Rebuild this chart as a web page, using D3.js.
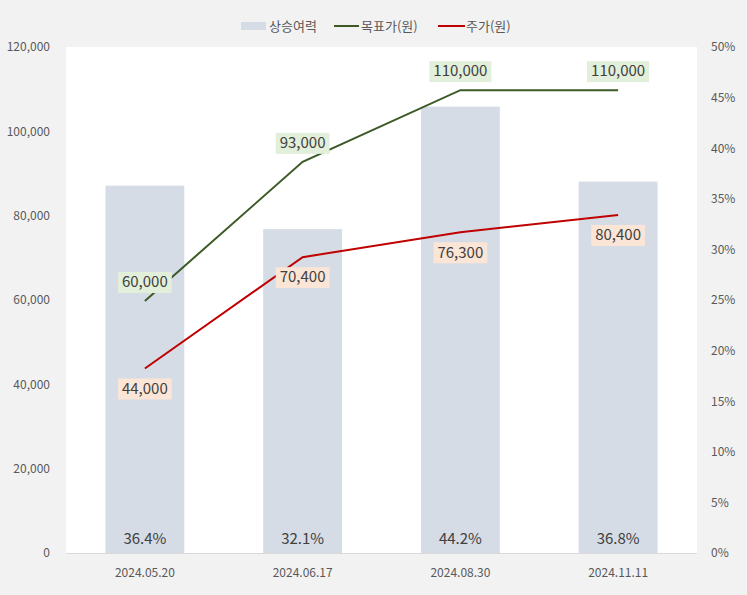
<!DOCTYPE html>
<html><head><meta charset="utf-8">
<script src="https://cdn.jsdelivr.net/npm/d3@7"></script>
<style>
html,body{margin:0;padding:0;background:#f2f2f2;}
svg{display:block;font-family:"Noto Sans CJK KR","Noto Sans",sans-serif;}
</style></head><body>
<svg id="c" width="747" height="595"></svg>
<script>
const categories = ["2024.05.20","2024.06.17","2024.08.30","2024.11.11"];
const upside = [36.4, 32.1, 44.2, 36.8];
const target = [60000, 93000, 110000, 110000];
const price = [44000, 70400, 76300, 80400];
const leftTicks = [0,20000,40000,60000,80000,100000,120000];
const rightTicks = [0,5,10,15,20,25,30,35,40,45,50];

const svg = d3.select("#c");
const W=747,H=595;
const m={l:66,r:697,t:48,b:554};
svg.append("rect").attr("width",W).attr("height",H).attr("fill","#f2f2f2");
svg.append("rect").attr("x",m.l).attr("y",m.t-1).attr("width",m.r-m.l).attr("height",m.b-m.t).attr("fill","#ffffff");

const x = d3.scaleBand().domain(categories).range([m.l,m.r]).paddingInner(0).paddingOuter(0);
const yL = d3.scaleLinear().domain([0,120000]).range([m.b,m.t]);
const yR = d3.scaleLinear().domain([0,50]).range([m.b,m.t]);
const cx = d => x(d)+x.bandwidth()/2;
const bw = x.bandwidth()*0.5;

// bars
svg.selectAll(".bar").data(upside).enter().append("rect")
  .attr("x",(d,i)=>cx(categories[i])-bw/2).attr("width",bw)
  .attr("y",d=>yR(d)).attr("height",d=>m.b-1-yR(d)).attr("fill","#d6dce5");
svg.selectAll(".blab").data(upside).enter().append("text")
  .attr("x",(d,i)=>cx(categories[i])).attr("y",m.b-10)
  .attr("text-anchor","middle").attr("font-size",15).attr("fill","#404040")
  .text(d=>d.toFixed(1)+"%");

// axis line
svg.append("line").attr("x1",m.l).attr("x2",m.r).attr("y1",m.b-0.5).attr("y2",m.b-0.5).attr("stroke","#d9d9d9");

// left axis
const gl = svg.append("g").attr("transform",`translate(${m.l-13},-1)`)
  .call(d3.axisLeft(yL).tickValues(leftTicks).tickSize(0).tickFormat(d3.format(",")));
gl.select(".domain").remove();
gl.selectAll("text").attr("font-size",12).attr("fill","#595959").attr("font-family","'Noto Sans CJK KR',sans-serif");
// right axis
const gr = svg.append("g").attr("transform",`translate(${m.r+11},-1)`)
  .call(d3.axisRight(yR).tickValues(rightTicks).tickSize(0).tickFormat(d=>d+"%"));
gr.select(".domain").remove();
gr.selectAll("text").attr("font-size",12).attr("fill","#595959").attr("font-family","'Noto Sans CJK KR',sans-serif");
// x axis
const gx = svg.append("g").attr("transform",`translate(0,${m.b+11})`)
  .call(d3.axisBottom(x).tickSize(0));
gx.select(".domain").remove();
gx.selectAll("text").attr("font-size",12).attr("fill","#595959").attr("font-family","'Noto Sans CJK KR',sans-serif");

// lines
const line = d3.line().x((d,i)=>cx(categories[i])).y(d=>yL(d));
svg.append("path").datum(target).attr("d",line).attr("fill","none").attr("stroke","#3b5a26").attr("stroke-width",2);
svg.append("path").datum(price).attr("d",line).attr("fill","none").attr("stroke","#c00000").attr("stroke-width",2);

function labels(data, dy, bg){
  const g = svg.append("g");
  data.forEach((d,i)=>{
    const px=cx(categories[i]), py=yL(d)+dy;
    const t = g.append("text").attr("x",px).attr("y",py).attr("dy","0.35em")
      .attr("text-anchor","middle").attr("font-size",15).attr("fill","#404040")
      .text(d3.format(",")(d));
    const bb = t.node().getBBox();
    g.insert("rect","text").attr("x",px-bb.width/2-4).attr("y",py-10).attr("width",bb.width+8).attr("height",21).attr("fill",bg);
  });
}
labels(target,-19,"#e2efda");
labels(price,20,"#fbe5d6");

// legend
const lg = svg.append("g").attr("font-size",13).attr("fill","#595959");
lg.append("rect").attr("x",241).attr("y",22).attr("width",25).attr("height",8).attr("fill","#d6dce5");
lg.append("text").attr("x",269).attr("y",26).attr("dy","0.35em").text("상승여력");
lg.append("line").attr("x1",334).attr("x2",359).attr("y1",26).attr("y2",26).attr("stroke","#3b5a26").attr("stroke-width",2);
lg.append("text").attr("x",361).attr("y",26).attr("dy","0.35em").text("목표가(원)");
lg.append("line").attr("x1",438).attr("x2",465).attr("y1",26).attr("y2",26).attr("stroke","#c00000").attr("stroke-width",2);
lg.append("text").attr("x",466).attr("y",26).attr("dy","0.35em").text("주가(원)");
</script>
</body></html>
